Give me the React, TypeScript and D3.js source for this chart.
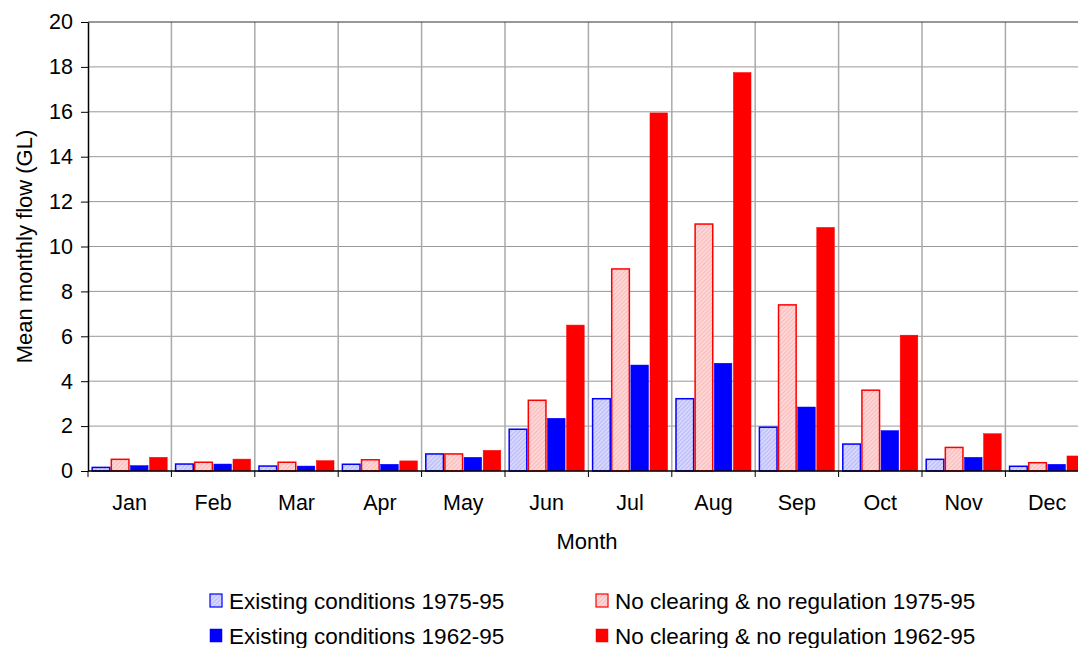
import { useEffect, useRef } from 'react';
import * as d3 from 'd3';

const months = ['Jan', 'Feb', 'Mar', 'Apr', 'May', 'Jun', 'Jul', 'Aug', 'Sep', 'Oct', 'Nov', 'Dec'];

const existing7595 = [0.16, 0.31, 0.22, 0.3, 0.76, 1.86, 3.22, 3.22, 1.95, 1.2, 0.52, 0.21];
const noClearing7595 = [0.52, 0.39, 0.39, 0.5, 0.76, 3.15, 9.0, 11.0, 7.4, 3.6, 1.05, 0.37];
const existing6295 = [0.24, 0.31, 0.22, 0.3, 0.61, 2.35, 4.72, 4.8, 2.85, 1.8, 0.61, 0.3];
const noClearing6295 = [0.61, 0.53, 0.46, 0.45, 0.92, 6.5, 15.95, 17.75, 10.85, 6.05, 1.66, 0.67];

const seriesNames = [
  'Existing conditions 1975-95',
  'No clearing & no regulation 1975-95',
  'Existing conditions 1962-95',
  'No clearing & no regulation 1962-95',
];

const yTicks = [0, 2, 4, 6, 8, 10, 12, 14, 16, 18, 20];

const App = () => {
  const svgRef = useRef<SVGSVGElement>(null);

  useEffect(() => {
    if (!svgRef.current) return;
    d3.select(svgRef.current).selectAll('*').remove();

    const W = 1078, H = 648;
    const left = 88, top = 22, bottom = 471;
    const right = left + 12 * 83.4;
    const font = '"Liberation Sans", Arial, sans-serif';

    const svg = d3.select(svgRef.current)
      .attr('width', W)
      .attr('height', H)
      .style('font-family', font);

    // Patrones de rayado
    const defs = svg.append('defs');
    const mkPattern = (id: string, bg: string, line: string) => {
      const p = defs.append('pattern')
        .attr('id', id)
        .attr('width', 3)
        .attr('height', 3)
        .attr('patternUnits', 'userSpaceOnUse')
        .attr('patternTransform', 'rotate(45)');
      p.append('rect').attr('width', 3).attr('height', 3).attr('fill', bg);
      p.append('line').attr('x1', 0).attr('y1', 0).attr('x2', 0).attr('y2', 3)
        .attr('stroke', line).attr('stroke-width', 1.2);
    };
    mkPattern('hatchBlue', '#d6d6ff', '#a8a8f0');
    mkPattern('hatchRed', '#ffd6d6', '#f4a8a8');

    const x = d3.scaleBand<string>().domain(months).range([left, right]).padding(0);
    const x1 = d3.scaleBand<number>().domain([0, 1, 2, 3])
      .range([0, x.bandwidth()]).paddingOuter(0.18).paddingInner(0);
    const y = d3.scaleLinear().domain([0, 20]).range([bottom, top]);

    // Rejilla
    svg.append('g').selectAll('line').data(yTicks.slice(1, -1)).enter().append('line')
      .attr('x1', left).attr('x2', right)
      .attr('y1', d => y(d)).attr('y2', d => y(d))
      .attr('stroke', '#999').attr('stroke-width', 1);
    svg.append('g').selectAll('line').data(months.slice(1)).enter().append('line')
      .attr('x1', d => x(d)!).attr('x2', d => x(d)!)
      .attr('y1', top).attr('y2', bottom)
      .attr('stroke', '#aaa').attr('stroke-width', 1.5);
    svg.append('line')
      .attr('x1', left).attr('x2', right).attr('y1', top).attr('y2', top)
      .attr('stroke', '#333').attr('stroke-width', 1);

    // Barras
    const series = [existing7595, noClearing7595, existing6295, noClearing6295];
    const fills = ['url(#hatchBlue)', 'url(#hatchRed)', '#0000ff', '#ff0000'];
    const strokes = ['#0000ff', '#ff0000', '#0000ff', '#ff0000'];

    series.forEach((vals, si) => {
      svg.append('g').selectAll('rect').data(vals).enter().append('rect')
        .attr('x', (d, i) => x(months[i])! + x1(si)! + 0.75)
        .attr('width', x1.bandwidth() - 1.5)
        .attr('y', d => y(d))
        .attr('height', d => bottom - y(d))
        .attr('fill', fills[si])
        .attr('stroke', strokes[si])
        .attr('stroke-width', si < 2 ? 1.5 : 0.5);
    });

    // Ejes
    const yAxis = d3.axisLeft(y).tickValues(yTicks).tickSize(7).tickPadding(8).tickSizeOuter(0);
    const gy = svg.append('g').attr('transform', `translate(${left},0)`).call(yAxis);
    gy.select('.domain').attr('stroke', '#000').attr('stroke-width', 1.5);
    gy.selectAll('text').attr('font-size', 21.5).attr('fill', '#000')
      .attr('font-family', font);

    const gx = svg.append('g').attr('transform', `translate(0,${bottom})`);
    gx.append('line').attr('x1', left).attr('x2', right).attr('y1', 0).attr('y2', 0)
      .attr('stroke', '#000').attr('stroke-width', 1.5);
    gx.selectAll('line.tk').data(d3.range(13)).enter().append('line')
      .attr('class', 'tk')
      .attr('x1', i => left + i * x.step()).attr('x2', i => left + i * x.step())
      .attr('y1', 0).attr('y2', 6)
      .attr('stroke', '#000').attr('stroke-width', 1);
    gx.selectAll('text').data(months).enter().append('text')
      .attr('x', d => x(d)! + x.bandwidth() / 2)
      .attr('y', 39)
      .attr('text-anchor', 'middle')
      .attr('font-size', 21.5)
      .text(d => d);

    // Titulos
    svg.append('text')
      .attr('x', 587).attr('y', 549)
      .attr('text-anchor', 'middle').attr('font-size', 22)
      .text('Month');
    svg.append('text')
      .attr('transform', `translate(32,${(top + bottom) / 2}) rotate(-90)`)
      .attr('text-anchor', 'middle').attr('font-size', 22)
      .text('Mean monthly flow (GL)');

    // Leyenda
    const legendPos = [
      { x: 210, y: 601 }, { x: 596, y: 601 },
      { x: 210, y: 636 }, { x: 596, y: 636 },
    ];
    const lg = svg.append('g').selectAll('g').data(seriesNames).enter().append('g')
      .attr('transform', (d, i) => `translate(${legendPos[i].x},${legendPos[i].y})`);
    lg.append('rect')
      .attr('x', 0).attr('y', -7).attr('width', 12).attr('height', 13)
      .attr('fill', (d, i) => fills[i])
      .attr('stroke', (d, i) => strokes[i])
      .attr('stroke-width', (d, i) => (i < 2 ? 1.2 : 0.5));
    lg.append('text')
      .attr('x', 19).attr('y', 0).attr('dy', '0.36em')
      .attr('font-size', 22.5)
      .text(d => d);
  }, []);

  return <svg ref={svgRef} style={{ display: 'block', position: 'absolute', left: 0, top: 0 }} />;
};

export default App;
